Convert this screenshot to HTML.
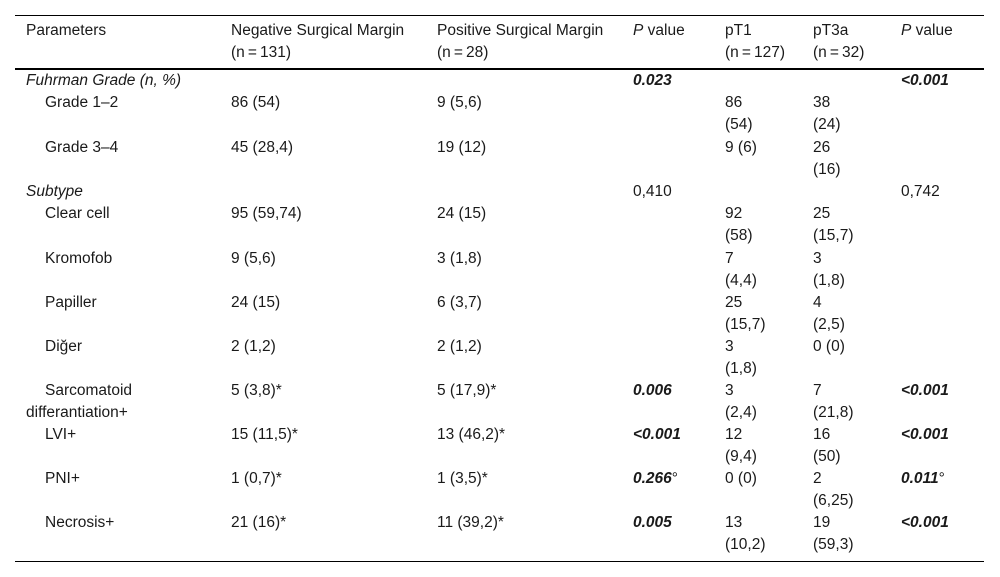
<!DOCTYPE html>
<html><head><meta charset="utf-8"><style>
body{margin:0;width:1000px;height:577px;background:#fff;position:relative;font-family:"Liberation Sans",Arial,sans-serif;font-size:15.5px;color:#1a1a1a;overflow:hidden}
.c{position:absolute;line-height:22px;white-space:nowrap}
.l{position:absolute;left:15px;width:969px;background:#000}
.b{font-weight:bold;font-style:italic}
i{font-style:italic}
</style></head><body>
<div class="l" style="top:15px;height:1px"></div>
<div class="l" style="top:68px;height:2px"></div>
<div class="l" style="top:561px;height:1px"></div>

<div class="c" style="left:26px;top:20px">Parameters</div>
<div class="c" style="left:231px;top:20px">Negative Surgical Margin<br>(n&thinsp;=&thinsp;131)</div>
<div class="c" style="left:437px;top:20px">Positive Surgical Margin<br>(n&thinsp;=&thinsp;28)</div>
<div class="c" style="left:633px;top:20px"><i>P</i> value</div>
<div class="c" style="left:725px;top:20px">pT1<br>(n&thinsp;=&thinsp;127)</div>
<div class="c" style="left:813px;top:20px">pT3a<br>(n&thinsp;=&thinsp;32)</div>
<div class="c" style="left:901px;top:20px"><i>P</i> value</div>

<div class="c" style="left:26px;top:70px"><i>Fuhrman Grade (n, %)</i></div>
<div class="c b" style="left:633px;top:70px">0.023</div>
<div class="c b" style="left:901px;top:70px">&lt;0.001</div>

<div class="c" style="left:45px;top:92px">Grade 1–2</div>
<div class="c" style="left:231px;top:92px">86 (54)</div>
<div class="c" style="left:437px;top:92px">9 (5,6)</div>
<div class="c" style="left:725px;top:92px">86<br>(54)</div>
<div class="c" style="left:813px;top:92px">38<br>(24)</div>

<div class="c" style="left:45px;top:137px">Grade 3–4</div>
<div class="c" style="left:231px;top:137px">45 (28,4)</div>
<div class="c" style="left:437px;top:137px">19 (12)</div>
<div class="c" style="left:725px;top:137px">9 (6)</div>
<div class="c" style="left:813px;top:137px">26<br>(16)</div>

<div class="c" style="left:26px;top:181px"><i>Subtype</i></div>
<div class="c" style="left:633px;top:181px">0,410</div>
<div class="c" style="left:901px;top:181px">0,742</div>

<div class="c" style="left:45px;top:203px">Clear cell</div>
<div class="c" style="left:231px;top:203px">95 (59,74)</div>
<div class="c" style="left:437px;top:203px">24 (15)</div>
<div class="c" style="left:725px;top:203px">92<br>(58)</div>
<div class="c" style="left:813px;top:203px">25<br>(15,7)</div>

<div class="c" style="left:45px;top:248px">Kromofob</div>
<div class="c" style="left:231px;top:248px">9 (5,6)</div>
<div class="c" style="left:437px;top:248px">3 (1,8)</div>
<div class="c" style="left:725px;top:248px">7<br>(4,4)</div>
<div class="c" style="left:813px;top:248px">3<br>(1,8)</div>

<div class="c" style="left:45px;top:292px">Papiller</div>
<div class="c" style="left:231px;top:292px">24 (15)</div>
<div class="c" style="left:437px;top:292px">6 (3,7)</div>
<div class="c" style="left:725px;top:292px">25<br>(15,7)</div>
<div class="c" style="left:813px;top:292px">4<br>(2,5)</div>

<div class="c" style="left:45px;top:336px">Diğer</div>
<div class="c" style="left:231px;top:336px">2 (1,2)</div>
<div class="c" style="left:437px;top:336px">2 (1,2)</div>
<div class="c" style="left:725px;top:336px">3<br>(1,8)</div>
<div class="c" style="left:813px;top:336px">0 (0)</div>

<div class="c" style="left:45px;top:380px">Sarcomatoid</div>
<div class="c" style="left:26px;top:402px">differantiation+</div>
<div class="c" style="left:231px;top:380px">5 (3,8)*</div>
<div class="c" style="left:437px;top:380px">5 (17,9)*</div>
<div class="c b" style="left:633px;top:380px">0.006</div>
<div class="c" style="left:725px;top:380px">3<br>(2,4)</div>
<div class="c" style="left:813px;top:380px">7<br>(21,8)</div>
<div class="c b" style="left:901px;top:380px">&lt;0.001</div>

<div class="c" style="left:45px;top:424px">LVI+</div>
<div class="c" style="left:231px;top:424px">15 (11,5)*</div>
<div class="c" style="left:437px;top:424px">13 (46,2)*</div>
<div class="c b" style="left:633px;top:424px">&lt;0.001</div>
<div class="c" style="left:725px;top:424px">12<br>(9,4)</div>
<div class="c" style="left:813px;top:424px">16<br>(50)</div>
<div class="c b" style="left:901px;top:424px">&lt;0.001</div>

<div class="c" style="left:45px;top:468px">PNI+</div>
<div class="c" style="left:231px;top:468px">1 (0,7)*</div>
<div class="c" style="left:437px;top:468px">1 (3,5)*</div>
<div class="c" style="left:633px;top:468px"><span class="b">0.266</span>°</div>
<div class="c" style="left:725px;top:468px">0 (0)</div>
<div class="c" style="left:813px;top:468px">2<br>(6,25)</div>
<div class="c" style="left:901px;top:468px"><span class="b">0.011</span>°</div>

<div class="c" style="left:45px;top:512px">Necrosis+</div>
<div class="c" style="left:231px;top:512px">21 (16)*</div>
<div class="c" style="left:437px;top:512px">11 (39,2)*</div>
<div class="c b" style="left:633px;top:512px">0.005</div>
<div class="c" style="left:725px;top:512px">13<br>(10,2)</div>
<div class="c" style="left:813px;top:512px">19<br>(59,3)</div>
<div class="c b" style="left:901px;top:512px">&lt;0.001</div>
</body></html>
